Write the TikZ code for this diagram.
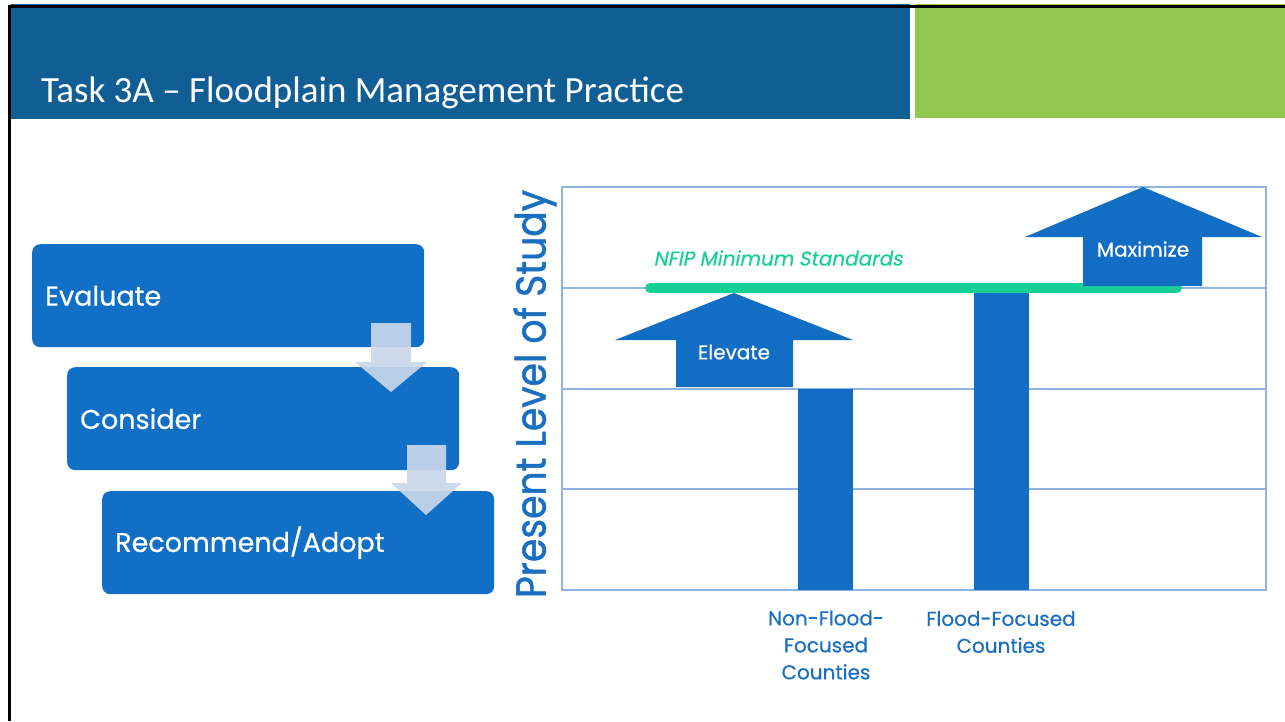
\documentclass[tikz,border=0pt]{standalone}
\usepackage{fontspec}
\setmainfont{Carlito}
\newfontfamily\geofont{Poppins}
\newfontfamily\geomed{Poppins}[FakeBold=0.6]
\newfontfamily\geoaxis{Poppins}[FakeBold=1.2]
\newfontfamily\geoslant{Poppins}[FakeSlant=0.2,FakeBold=0.4]
\definecolor{headblue}{HTML}{115E95}
\definecolor{headgreen}{HTML}{92C84F}
\definecolor{boxblue}{HTML}{1170C6}
\definecolor{palearrow}{HTML}{CAD6EB}
\definecolor{chartblue}{HTML}{126DC5}
\definecolor{labelblue}{HTML}{1B6FC1}
\definecolor{nfipgreen}{HTML}{17D096}
\definecolor{gridblue}{HTML}{8FB4E3}
\tikzset{
  stepbox/.style={fill=boxblue, rounded corners=8pt, anchor=north west,
    minimum width=392pt, minimum height=103pt, inner xsep=13pt,
    text width=366pt, align=left, text=white,
    font=\geomed\fontsize{27}{32}\selectfont},
  flowarrow/.style={fill=palearrow, fill opacity=0.92},
  gridline/.style={draw=gridblue, line width=1.2pt},
  blockarrow/.style={fill=chartblue},
  arrowtext/.style={text=white, font=\geomed\fontsize{20}{24}\selectfont},
  catlabel/.style={text=labelblue, align=center,
    font=\geomed\fontsize{20}{27}\selectfont}
}
\begin{document}
\begin{tikzpicture}[x=1pt,y=-1pt]
\useasboundingbox (0,0) rectangle (1285,721);
\fill[white] (0,0) rectangle (1285,721);
% header
\fill[headblue] (11,4) rectangle (910,119);
\fill[headgreen] (915,4) rectangle (1285,118);
\fill[black] (8,5) rectangle (1285,7.5);
\fill[black] (8,5) rectangle (11,721);
\node[anchor=base west, text=white, inner sep=0pt,
  font=\fontsize{37}{42}\selectfont] (title) at (41,102)
  {Task 3A – Floodplain Management Practice};
% process boxes
\node[stepbox] (evaluate) at (32,244) {Evaluate};
\node[stepbox] (consider) at (67,367) {Consider};
\node[stepbox] (recommend) at (102,491) {Recommend/Adopt};
% down arrows
\fill[flowarrow] (371,323) -- (411,323) -- (411,362) -- (427,362)
  -- (391,392) -- (355,362) -- (371,362) -- cycle;
\fill[flowarrow] (407,445) -- (446,445) -- (446,483) -- (462,483)
  -- (426,515) -- (391,483) -- (407,483) -- cycle;
% chart frame and grid
\draw[gridline] (562,187) rectangle (1266,590);
\draw[gridline] (562,288) -- (1266,288);
\draw[gridline] (562,389) -- (1266,389);
\draw[gridline] (562,489) -- (1266,489);
% bars
\fill[chartblue] (798,389) rectangle (853,590);
\fill[chartblue] (974,293) rectangle (1029,590);
% NFIP line
\draw[nfipgreen, line width=10pt, line cap=round] (650,288) -- (1177,288);
\node[text=nfipgreen, font=\geoslant\fontsize{20}{24}\selectfont] (nfip)
  at (778,258) {NFIP Minimum Standards};
% block arrows
\fill[blockarrow] (676,387) -- (676,340) -- (615,340) -- (734,293)
  -- (853,340) -- (793,340) -- (793,387) -- cycle;
\node[arrowtext] (elevate) at (734,352) {Elevate};
\fill[blockarrow] (1083,286) -- (1083,237) -- (1025,237) -- (1143,187)
  -- (1262,237) -- (1202,237) -- (1202,286) -- cycle;
\node[arrowtext] (maximize) at (1143,249) {Maximize};
% axis label
\node[rotate=90, text=labelblue, font=\geoaxis\fontsize{42}{46}\selectfont]
  (axis) at (535,394) {\scalebox{0.9}[1]{Present Level of Study}};
% category labels
\node[catlabel] (nonflood) at (826,645) {Non-Flood-\\Focused\\Counties};
\node[catlabel] (flood) at (1001,632) {Flood-Focused\\Counties};
\end{tikzpicture}
\end{document}
